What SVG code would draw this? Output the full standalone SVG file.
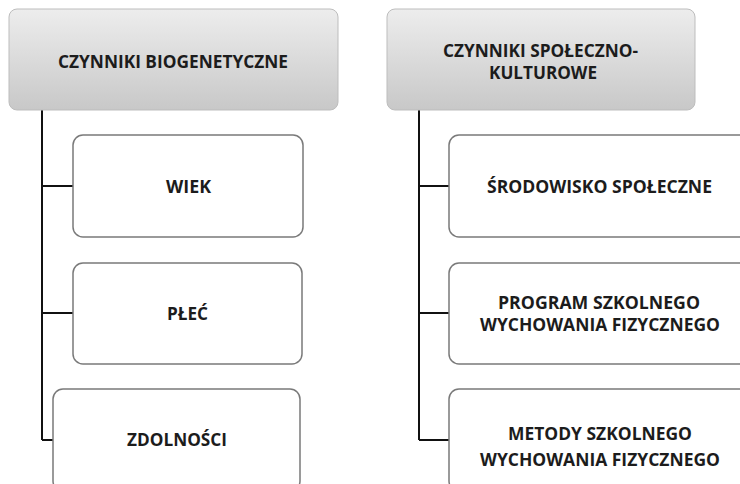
<svg xmlns="http://www.w3.org/2000/svg" width="740" height="484" viewBox="0 0 740 484">
<style>
.hdr{fill:url(#g);stroke:#bdbdbd;stroke-width:1}
.box{fill:#fff;stroke:#7a7a7a;stroke-width:1.5}
.t{font-family:"Open Sans","Liberation Sans",sans-serif;font-weight:bold;font-size:18px;fill:#1c1c1c;text-anchor:middle}
.c{fill:none;stroke:#111;stroke-width:2}
</style>
<defs>
<linearGradient id="g" x1="0" y1="0" x2="0" y2="1">
<stop offset="0" stop-color="#ededed"/>
<stop offset="1" stop-color="#c8c8c8"/>
</linearGradient>
</defs>
<rect width="740" height="484" fill="#fff"/>
<g id="connectors">
<path class="c" d="M42 110V440M42 186H73M42 313H73M42 440H53"/>
<path class="c" d="M419 110V440M419 186H449M419 313H449M419 440H449"/>
</g>
<g id="h1"><rect class="hdr" x="9" y="9" width="329" height="101" rx="8"/><text class="t" x="173" y="68" textLength="230" lengthAdjust="spacingAndGlyphs">CZYNNIKI BIOGENETYCZNE</text></g>
<g id="h2"><rect class="hdr" x="387" y="9" width="308" height="101" rx="8"/><text class="t" x="540.5" y="57" textLength="195" lengthAdjust="spacingAndGlyphs">CZYNNIKI SPOŁECZNO-</text><text class="t" x="543" y="79" textLength="108" lengthAdjust="spacingAndGlyphs">KULTUROWE</text></g>
<g id="n1"><rect class="box" x="73" y="135" width="230" height="102" rx="10"/><text class="t" x="188.5" y="193" textLength="45" lengthAdjust="spacingAndGlyphs">WIEK</text></g>
<g id="n2"><rect class="box" x="73" y="263" width="229" height="101" rx="10"/><text class="t" x="187.5" y="320" textLength="41" lengthAdjust="spacingAndGlyphs">PŁEĆ</text></g>
<g id="n3"><rect class="box" x="53" y="389" width="247" height="102" rx="10"/><text class="t" x="177" y="446" textLength="100" lengthAdjust="spacingAndGlyphs">ZDOLNOŚCI</text></g>
<g id="n4"><rect class="box" x="449" y="135" width="303" height="102" rx="10"/><text class="t" x="599.5" y="193" textLength="225" lengthAdjust="spacingAndGlyphs">ŚRODOWISKO SPOŁECZNE</text></g>
<g id="n5"><rect class="box" x="449" y="263" width="303" height="101" rx="10"/><text class="t" x="599" y="309" textLength="202" lengthAdjust="spacingAndGlyphs">PROGRAM SZKOLNEGO</text><text class="t" x="600" y="331" textLength="240" lengthAdjust="spacingAndGlyphs">WYCHOWANIA FIZYCZNEGO</text></g>
<g id="n6"><rect class="box" x="449" y="389" width="303" height="102" rx="10"/><text class="t" x="600" y="440" textLength="184" lengthAdjust="spacingAndGlyphs">METODY SZKOLNEGO</text><text class="t" x="600" y="466" textLength="240" lengthAdjust="spacingAndGlyphs">WYCHOWANIA FIZYCZNEGO</text></g>
</svg>
